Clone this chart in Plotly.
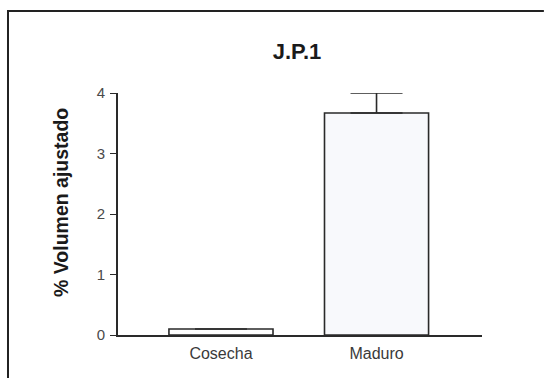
import plotly.graph_objects as go

# Data
categories = ["Cosecha", "Maduro"]
values = [0.10, 3.67]
errors_up = [None, 0.33]
bar_fills = ["#ffffff", "#f8f9fc"]
y_ticks = [0, 1, 2, 3, 4]

fig = go.Figure()
fig.add_trace(go.Bar(
    x=categories,
    y=values,
    width=0.669,
    marker=dict(color=bar_fills, line=dict(color="#2a2a2a", width=1.6)),
    error_y=dict(type="data", symmetric=False, array=errors_up,
                 arrayminus=[0, 0], color="#2a2a2a", thickness=1.6, width=26),
    cliponaxis=False,
))

fig.update_layout(
    width=548, height=378,
    margin=dict(l=118, r=66, t=93, b=43),
    paper_bgcolor="white", plot_bgcolor="white",
    showlegend=False,
    font=dict(family="Liberation Sans, Arial, sans-serif", color="#333"),
    title=dict(text="<b>J.P.1</b>", x=0.4918, xref="paper", y=1 - 51 / 378,
               yanchor="middle", xanchor="center",
               font=dict(size=22, color="#1a1a1a")),
)

fig.update_xaxes(
    range=[-0.662, 1.678],
    showline=True, linecolor="#2a2a2a", linewidth=1.6,
    ticks="", showgrid=False, zeroline=False,
    tickfont=dict(size=16, color="#3a3a3a"),
    ticklabelstandoff=3,
)
fig.update_yaxes(
    range=[0, 4], tickvals=y_ticks,
    showline=True, linecolor="#2a2a2a", linewidth=1.6,
    ticks="outside", ticklen=6, tickwidth=1.3, tickcolor="#2a2a2a",
    showgrid=False, zeroline=False,
    tickfont=dict(size=15, color="#4a4a4a"),
    ticklabelstandoff=2,
)

# Y-axis title, placed as a rotated annotation
fig.add_annotation(text="<b>% Volumen ajustado</b>", textangle=-90,
                   xref="paper", yref="paper", x=-0.1566, y=0.5496,
                   xanchor="center", yanchor="middle", showarrow=False,
                   font=dict(size=19.5, color="#1a1a1a"))

# Frame edges (left and top) as one open polyline
fig.add_shape(type="path", xref="paper", yref="paper",
              path="M -0.3022,-0.1777 L -0.3022,1.3388 L 1.17,1.3388",
              line=dict(color="#222", width=2), fillcolor="rgba(0,0,0,0)")

fig.write_html("out.html")
